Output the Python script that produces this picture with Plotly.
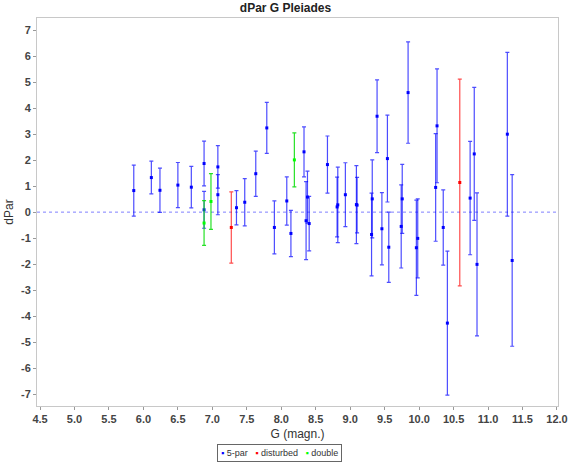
import plotly.graph_objects as go

# ---- data (G magnitude, dPar, error) ----
g_5par = [5.86, 6.115, 6.24, 6.50, 6.695, 6.88, 6.88, 7.08, 7.08, 7.35, 7.47, 7.63,
          7.79, 7.90, 8.08, 8.14, 8.33, 8.36, 8.38, 8.405, 8.67, 8.81, 8.82, 8.93,
          9.09, 9.10, 9.31, 9.32, 9.39, 9.46, 9.54, 9.56, 9.74, 9.755, 9.84, 9.96,
          9.98, 10.24, 10.26, 10.35, 10.41, 10.74, 10.80, 10.84, 11.28, 11.35]
dpar_5par = [0.83, 1.33, 0.84, 1.04, 0.96, 1.87, 0.09, 1.74, 0.67, 0.17, 0.38, 1.48,
             3.24, -0.59, 0.43, -0.82, 2.32, -0.33, 0.58, -0.44, 1.83, 0.20, 0.28, 0.67,
             0.29, 0.27, -0.86, 0.51, 3.69, -0.64, 2.06, -1.35, -0.55, 0.51, 4.60, -1.37,
             -1.01, 0.95, 3.32, -0.59, -4.27, 0.54, 2.24, -2.01, 3.00, -1.86]
err_5par = [0.98, 0.63, 0.85, 0.87, 0.80, 0.86, 0.71, 0.82, 0.77, 0.66, 0.91, 0.87,
            0.98, 1.02, 0.93, 0.89, 0.96, 1.50, 1.00, 1.05, 1.10, 1.15, 1.45, 1.23,
            1.50, 1.07, 1.59, 1.50, 1.40, 1.39, 1.67, 1.35, 1.60, 1.33, 1.95, 1.83,
            1.52, 2.07, 2.19, 1.45, 2.77, 2.18, 2.56, 2.75, 3.15, 3.30]

g_disturbed = [7.275, 10.59]
dpar_disturbed = [-0.59, 1.14]
err_disturbed = [1.37, 3.98]

g_double = [6.88, 6.98, 8.19]
dpar_double = [-0.42, 0.41, 2.01]
err_double = [0.86, 1.07, 1.04]

series_names = ["5-par", "disturbed", "double"]
series_colors = ["rgb(0,0,255)", "rgb(255,0,0)", "rgb(0,255,0)"]
series_err_colors = ["rgba(0,0,255,0.7)", "rgba(255,0,0,0.7)", "rgba(0,220,0,0.85)"]

y_ticks = list(range(-7, 8))
x_ticks = [4.5, 5.0, 5.5, 6.0, 6.5, 7.0, 7.5, 8.0, 8.5, 9.0, 9.5, 10.0, 10.5, 11.0, 11.5, 12.0]

FONT = "Liberation Sans, Arial, sans-serif"

fig = go.Figure()
data = [(g_5par, dpar_5par, err_5par), (g_disturbed, dpar_disturbed, err_disturbed),
        (g_double, dpar_double, err_double)]
for (gx, gy, ge), name, col, ecol in zip(data, series_names, series_colors, series_err_colors):
    fig.add_trace(go.Scatter(
        x=gx, y=gy, mode="markers", name=name, showlegend=False,
        marker=dict(symbol="square", size=3, color=col),
        error_y=dict(type="data", array=ge, visible=True, color=ecol,
                     thickness=1.2, width=2),
    ))

fig.add_shape(type="line", xref="paper", yref="y", x0=0, x1=1, y0=0, y1=0,
              line=dict(color="rgba(0,0,255,0.5)", width=1, dash="dot"), layer="below")

# legend drawn as a boxed text annotation
legend_text = "&nbsp;&nbsp;&nbsp;".join(
    f'<span style="color:{c}">▪</span> {n}' for n, c in zip(series_names, series_colors))
fig.add_annotation(text=legend_text, xref="paper", yref="paper", x=0.466, y=-0.1224,
                   xanchor="center", yanchor="middle", showarrow=False,
                   font=dict(family=FONT, size=9, color="#333333"),
                   bordercolor="#666666", borderwidth=1, borderpad=3, bgcolor="white")

tickfont = dict(family=FONT, size=11, color="#444444", weight="bold")

fig.update_layout(
    width=571, height=466,
    margin=dict(l=37, r=13, t=18, b=60),
    paper_bgcolor="white", plot_bgcolor="white",
    title=dict(text="<b>dPar G Pleiades</b>", x=0.5, xref="container", xanchor="center",
               y=0.984, yref="container", yanchor="middle",
               font=dict(family=FONT, size=12, color="#222222")),
    showlegend=False,
    xaxis=dict(range=[4.456, 12.015], tickvals=x_ticks, ticktext=[f"{v:.1f}" for v in x_ticks],
               showgrid=False, zeroline=False, showline=True, mirror=True, automargin=False,
               linecolor="#c8c8c8", linewidth=1, ticks="outside", ticklen=3, tickcolor="#999999",
               tickfont=tickfont,
               title=dict(text="G (magn.)", standoff=5,
                          font=dict(family=FONT, size=12, color="#333333"))),
    yaxis=dict(range=[-7.46, 7.47], tickvals=y_ticks, ticktext=[str(v) for v in y_ticks],
               showgrid=False, zeroline=False, showline=True, mirror=True, automargin=False,
               linecolor="#c8c8c8", linewidth=1, ticks="outside", ticklen=3, tickcolor="#999999",
               tickfont=tickfont,
               title=dict(text="dPar", standoff=4,
                          font=dict(family=FONT, size=12, color="#333333"))),
)

fig.write_html("out.html", config={"displayModeBar": False},
               post_script="document.body.style.margin='0px';")
